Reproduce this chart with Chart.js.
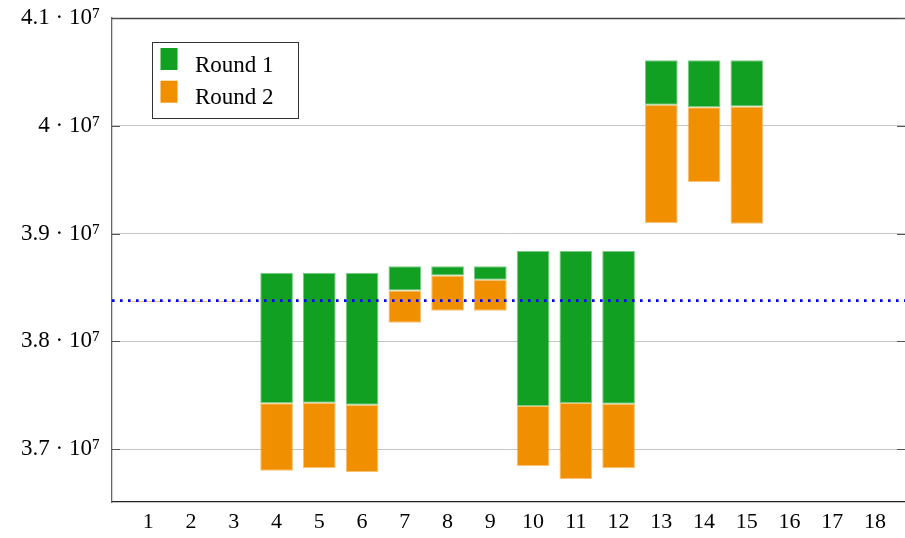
<!DOCTYPE html>
<html>
<head>
<meta charset="utf-8">
<script src="https://cdn.jsdelivr.net/npm/chart.js@4.4.1/dist/chart.umd.min.js"></script>
<style>
  html, body { margin: 0; padding: 0; background: #ffffff; }
  #wrap { width: 905px; height: 538px; position: relative; }
</style>
</head>
<body>
<div id="wrap"><canvas id="c" width="905" height="538"></canvas></div>
<script>
// ---- data ----
const categories = [1, 2, 3, 4, 5, 6, 7, 8, 9, 10, 11, 12, 13, 14, 15, 16, 17, 18];
// Round 1 intervals [low, high]
const round1Low  = [null, null, null, 3.7425e7, 3.7431e7, 3.7413e7, 3.8473e7, 3.8612e7, 3.8572e7, 3.7400e7, 3.7428e7, 3.7422e7, 4.0196e7, 4.0171e7, 4.0180e7, null, null, null];
const round1High = [null, null, null, 3.8637e7, 3.8637e7, 3.8637e7, 3.8696e7, 3.8696e7, 3.8696e7, 3.8838e7, 3.8838e7, 3.8838e7, 4.0609e7, 4.0609e7, 4.0609e7, null, null, null];
// Round 2 intervals [low, high]
const round2Low  = [3.8362e7, 3.8362e7, 3.8362e7, 3.6801e7, 3.6825e7, 3.6788e7, 3.8173e7, 3.8285e7, 3.8285e7, 3.6843e7, 3.6723e7, 3.6822e7, 3.9097e7, 3.9478e7, 3.9092e7, null, null, null];
const round2High = [3.8376e7, 3.8376e7, 3.8376e7, 3.7425e7, 3.7431e7, 3.7413e7, 3.8473e7, 3.8612e7, 3.8572e7, 3.7400e7, 3.7428e7, 3.7422e7, 4.0196e7, 4.0171e7, 4.0180e7, null, null, null];
const baselineValue = 3.8378e7;
const yTicks = [3.7e7, 3.8e7, 3.9e7, 4.0e7, 4.1e7];
const seriesNames = ['Round 1', 'Round 2'];
const X_MIN = 0.15, X_MAX = 18.7;
const Y_MIN = 3.651e7, Y_MAX = 4.1e7;

const FONT = '"Liberation Serif", "Times New Roman", serif';
const GREEN = '#11a021', ORANGE = '#f09000';

function intervals(lo, hi) {
  return categories.map((c, i) => (lo[i] === null || hi[i] === null) ? null : { x: c, y: [lo[i], hi[i]] })
                   .filter(d => d !== null);
}

function tickLabel(v) {
  const m = v / 1e7;
  const s = (Math.round(m * 10) / 10).toString();
  return s + '\u2005\u00B7\u2005' + '10\u2077';
}

const framePlugin = {
  id: 'frame',
  afterDraw(chart) {
    const { ctx, chartArea: a, scales } = chart;
    ctx.save();
    // top border
    ctx.strokeStyle = '#444';
    ctx.lineWidth = 1.3;
    ctx.beginPath();
    ctx.moveTo(a.left, a.top + 0.5);
    ctx.lineTo(a.right, a.top + 0.5);
    ctx.stroke();
    // inward tick marks on the y axis
    ctx.strokeStyle = '#555';
    ctx.lineWidth = 1;
    yTicks.forEach(v => {
      const y = Math.round(scales.y.getPixelForValue(v)) + 0.5;
      ctx.beginPath();
      ctx.moveTo(a.left, y); ctx.lineTo(a.left + 8, y);
      ctx.moveTo(a.right, y); ctx.lineTo(a.right - 8, y);
      ctx.stroke();
    });
    // legend box
    const bx = 152.5, by = 42.5, bw = 146, bh = 76;
    ctx.fillStyle = '#ffffff';
    ctx.fillRect(bx, by, bw, bh);
    ctx.strokeStyle = '#333';
    ctx.lineWidth = 1;
    ctx.strokeRect(bx, by, bw, bh);
    const bars = chart.data.datasets.filter(d => d.type !== 'line');
    bars.forEach((d, i) => {
      const cy = 59 + i * 32.7;
      ctx.fillStyle = d.backgroundColor;
      ctx.fillRect(160.5, cy - 11, 17, 22);
      ctx.fillStyle = '#000';
      ctx.font = '23px ' + FONT;
      ctx.textBaseline = 'alphabetic';
      ctx.textAlign = 'left';
      ctx.fillText(d.label, 195, cy + 12.5);
    });
    ctx.restore();
  }
};

new Chart(document.getElementById('c'), {
  type: 'bar',
  data: {
    datasets: [
      {
        type: 'line',
        label: 'baseline',
        data: [{ x: X_MIN, y: baselineValue }, { x: X_MAX, y: baselineValue }],
        borderColor: '#0000ff',
        borderWidth: 2.6,
        borderDash: [2.6, 5.4],
        borderCapStyle: 'butt',
        pointRadius: 0,
        fill: false,
        order: 0
      },
      {
        label: seriesNames[0],
        data: intervals(round1Low, round1High),
        backgroundColor: GREEN,
        borderColor: 'rgba(17,160,33,0.55)',
        borderWidth: 1,
        borderSkipped: false,
        grouped: false,
        categoryPercentage: 1,
        barPercentage: 0.765,
        order: 2
      },
      {
        label: seriesNames[1],
        data: intervals(round2Low, round2High),
        backgroundColor: ORANGE,
        borderColor: 'rgba(240,144,0,0.55)',
        borderWidth: 1,
        borderSkipped: false,
        grouped: false,
        categoryPercentage: 1,
        barPercentage: 0.765,
        order: 1
      }
    ]
  },
  options: {
    responsive: false,
    animation: false,
    devicePixelRatio: 1,
    layout: { padding: { top: 18, right: 0, bottom: 0, left: 0 } },
    plugins: {
      legend: { display: false },
      tooltip: { enabled: false }
    },
    scales: {
      x: {
        type: 'linear',
        offset: false,
        min: X_MIN,
        max: X_MAX,
        afterBuildTicks(scale) { scale.ticks = categories.map(v => ({ value: v })); },
        afterFit(scale) { scale.height = 36; },
        grid: { display: false, drawTicks: false, offset: false },
        border: { display: true, color: '#222', width: 1.3 },
        ticks: {
          autoSkip: false,
          maxRotation: 0,
          padding: 9,
          color: '#000',
          font: { family: FONT, size: 22, lineHeight: 1 },
          callback: v => String(v)
        }
      },
      y: {
        type: 'linear',
        min: Y_MIN,
        max: Y_MAX,
        afterBuildTicks(scale) { scale.ticks = yTicks.map(v => ({ value: v })); },
        afterFit(scale) { scale.width = 112; },
        grid: { color: '#c4c4c4', lineWidth: 1, drawTicks: false },
        border: { display: true, color: '#666', width: 1.3 },
        ticks: {
          padding: 12,
          color: '#000',
          font: { family: FONT, size: 23, lineHeight: 0.5 },
          callback: v => tickLabel(v)
        }
      }
    }
  },
  plugins: [framePlugin]
});
</script>
</body>
</html>
